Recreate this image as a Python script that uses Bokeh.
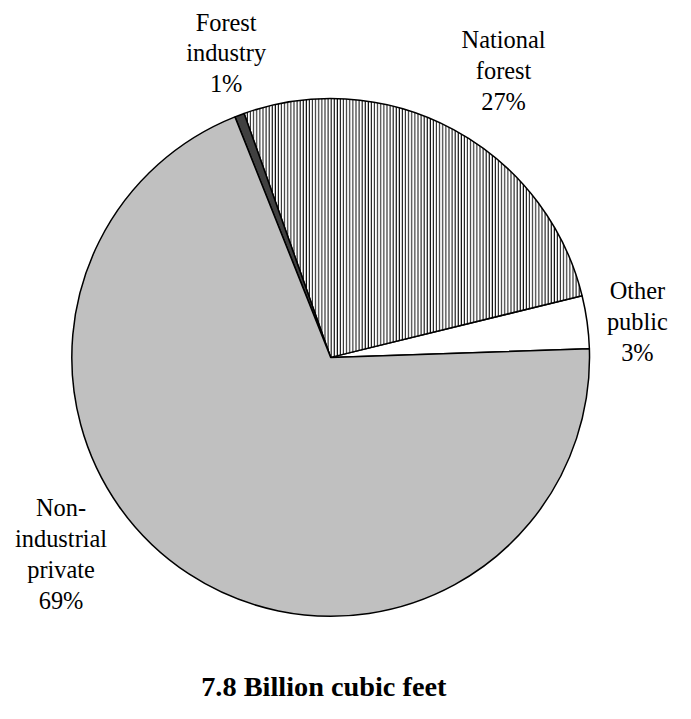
import numpy as np
from bokeh.plotting import figure
from bokeh.models import ColumnDataSource, Range1d
from bokeh.core.properties import value
from bokeh.embed import file_html
from bokeh.resources import INLINE

# ---- data ----
categories = ["Other public", "National forest", "Forest industry", "Non-industrial private"]
shares = [3.3, 26.6, 0.6, 69.5]           # percent of volume
pct_labels = ["3%", "27%", "1%", "69%"]
name_lines = [["Other", "public"], ["National", "forest"], ["Forest", "industry"],
              ["Non-", "industrial", "private"]]
title_text = "7.8 Billion cubic feet"

# ---- styling / layout (layout given in reference-picture pixels) ----
fills = ["white", "white", "#404040", "#C0C0C0"]
hatches = [" ", "vertical_line", " ", " "]
start_deg = 1.9
REF_W, REF_H = 691, 719
W, H = 675, 703
S = W / REF_W
CX, CY, R = 338, REF_H - 365, 265
label_anchor = [(652, 297), (515, 40), (231, 22), (62, 519)]  # centre x, first line y
LINE = 31.5
FONT = value("Liberation Serif")

p = figure(width=W, height=H, x_range=Range1d(0, REF_W), y_range=Range1d(0, REF_H),
           output_backend="svg", toolbar_location=None, min_border=0)
p.axis.visible = False
p.grid.visible = False
p.outline_line_color = None
p.background_fill_color = "white"

fr = np.array(shares) / sum(shares)
ends = np.radians(start_deg) + 2 * np.pi * np.cumsum(fr)
starts = np.concatenate([[np.radians(start_deg)], ends[:-1]])

src = ColumnDataSource(dict(cat=categories, start=starts, end=ends, fill=fills, hatch=hatches))
p.wedge(x=CX, y=CY, radius=R, start_angle="start", end_angle="end", source=src,
        fill_color="fill", line_color="black", line_width=1.5,
        hatch_pattern="hatch", hatch_color="black", hatch_scale=3.1, hatch_weight=1)

xs, ys, ts = [], [], []
for (ax, ay), lines, pct in zip(label_anchor, name_lines, pct_labels):
    for i, t in enumerate(lines + [pct]):
        xs.append(ax)
        ys.append(REF_H - (ay + i * LINE))
        ts.append(t)
p.text(x=xs, y=ys, text=ts, text_font=FONT, text_font_size=f"{25 * S:.1f}px",
       text_align="center", text_baseline="middle", text_color="black")

p.text(x=[331], y=[REF_H - 702], text=[title_text], text_font=FONT,
       text_font_size=f"{29 * S:.1f}px", text_font_style="bold",
       text_align="center", text_baseline="middle", text_color="black")

open("out.html", "w").write(file_html(p, INLINE))
